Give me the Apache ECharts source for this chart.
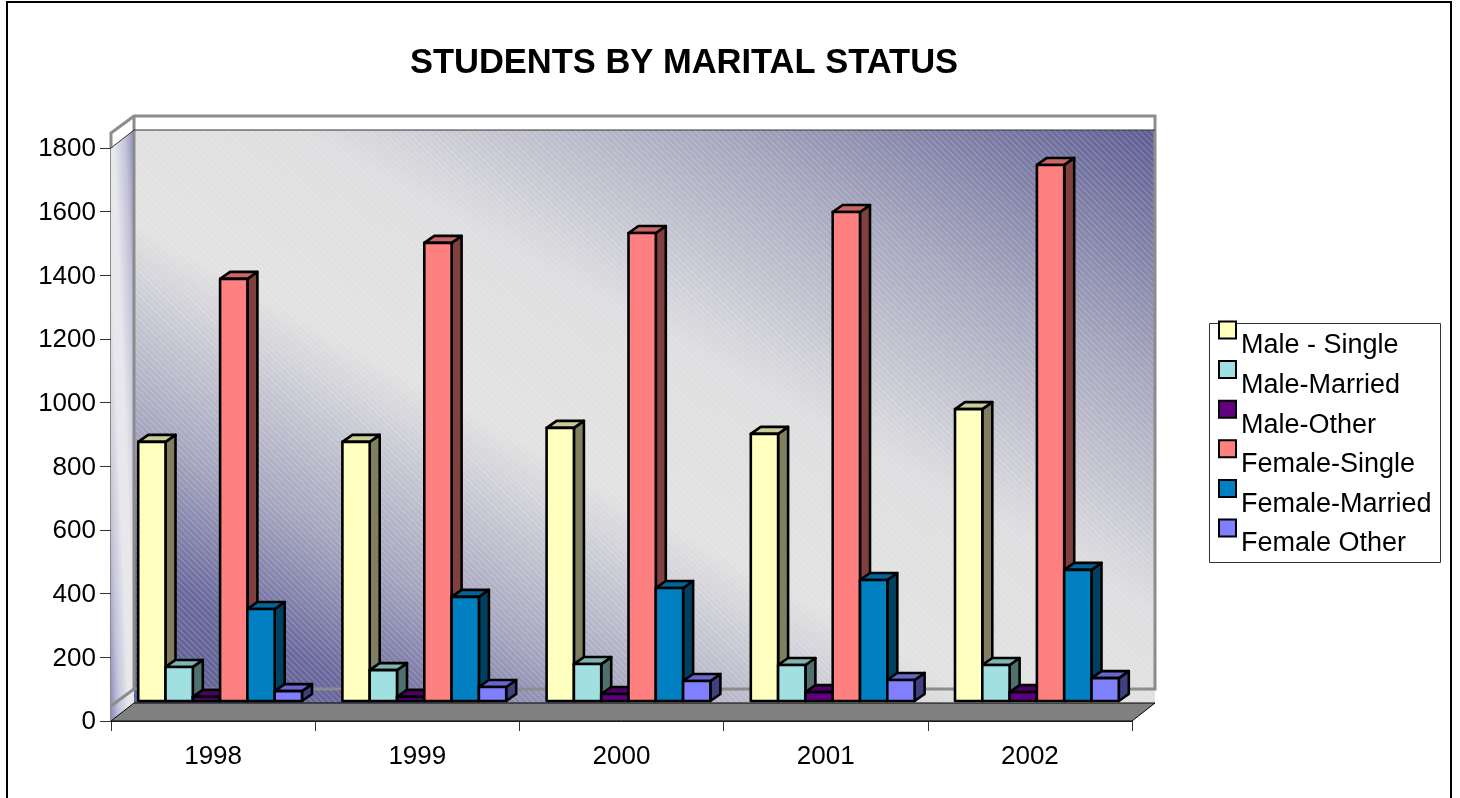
<!DOCTYPE html>
<html>
<head>
<meta charset="utf-8">
<title>Students by marital status</title>
<script src="https://cdn.jsdelivr.net/npm/echarts@6/dist/echarts.min.js"></script>
<style>
    html, body { margin: 0; padding: 0; background: #fff; }
    #chart { width: 1460px; height: 798px; }
</style>
</head>
<body>
<div id="chart"></div>
<script>
const years = ['1998', '1999', '2000', '2001', '2002'];
const seriesNames = ['Male - Single', 'Male-Married', 'Male-Other', 'Female-Single', 'Female-Married', 'Female Other'];
const maleSingle = [814, 814, 858, 839, 917];
const maleMarried = [107, 97, 116, 113, 113];
const maleOther = [13, 13, 22, 28, 28];
const femaleSingle = [1326, 1439, 1470, 1536, 1684];
const femaleMarried = [289, 327, 355, 380, 412];
const femaleOther = [31, 44, 63, 66, 72];
const allValues = [maleSingle, maleMarried, maleOther, femaleSingle, femaleMarried, femaleOther];

// front, top and side face of each bar
const faceColors = [
    ['#FFFFC0', '#CCCC9A', '#808060'],
    ['#A0E0E0', '#80B3B3', '#507070'],
    ['#600080', '#4D0066', '#300040'],
    ['#FF8080', '#CC6666', '#804040'],
    ['#0080C0', '#00669A', '#004060'],
    ['#8080FF', '#6666CC', '#404080']
];

const FONT = 'Liberation Sans, Arial, sans-serif';
const BAR_W = 27.3;
const BAR_DX = 10, BAR_DY = -7;      // depth of one bar
const FLOOR_DX = 23, FLOOR_DY = -18; // where the floor meets the back wall
const FRAME_DX = 23, FRAME_DY = -32; // offset of the grey frame lines
const SHIFT_X = 7, SHIFT_Y = -20;    // front plane of the bars, relative to the axes

// faint diagonal hatch on the back wall
function hatchCanvas() {
    const c = document.createElement('canvas');
    c.width = 6; c.height = 6;
    const g = c.getContext('2d');
    g.strokeStyle = 'rgba(255,255,255,0.16)';
    g.lineWidth = 1.4;
    g.beginPath();
    g.moveTo(-1, -1); g.lineTo(7, 7);
    g.moveTo(-1, 5); g.lineTo(1, 7);
    g.moveTo(5, -1); g.lineTo(7, 1);
    g.stroke();
    return c;
}
const hatch = hatchCanvas();

// gradient whose colour bands run along the top-left to bottom-right diagonal of a box
function diagonalFill(left, top, right, bottom, stops) {
    const cx = (left + right) / 2, cy = (top + bottom) / 2;
    const dx = right - left, dy = bottom - top, len = Math.sqrt(dx * dx + dy * dy);
    const nx = dy / len, ny = -dx / len;
    const reach = (right - cx) * nx + (top - cy) * ny;
    return new echarts.graphic.LinearGradient(
        cx + nx * reach, cy + ny * reach, cx - nx * reach, cy - ny * reach, stops, true);
}

function renderWalls(params, api) {
    const cs = params.coordSys;
    const x0 = cs.x, x1 = cs.x + cs.width;
    const yBottom = cs.y + cs.height, yTop = cs.y;
    const wl = x0 + FLOOR_DX, wr = x1 + FLOOR_DX, wt = yTop + FLOOR_DY, wb = yBottom + FLOOR_DY;
    const ft = yTop + FRAME_DY, fb = yBottom + FRAME_DY;
    const wallFill = diagonalFill(wl, wt, wr, wb, [
        { offset: 0, color: '#5C5C92' },
        { offset: 0.22, color: '#A6A6BE' },
        { offset: 0.42, color: '#DEDEE0' },
        { offset: 0.58, color: '#E2E2E2' },
        { offset: 0.76, color: '#A4A4BE' },
        { offset: 0.88, color: '#68689C' },
        { offset: 1, color: '#5C5C92' }
    ]);
    const sideFill = diagonalFill(x0, wt, wl, yBottom, [
        { offset: 0, color: '#8C8CBC' },
        { offset: 0.2, color: '#C4C4DA' },
        { offset: 0.45, color: '#E8E8EC' },
        { offset: 0.6, color: '#E8E8EC' },
        { offset: 0.82, color: '#C4C4DA' },
        { offset: 1, color: '#8C8CBC' }
    ]);
    const grey = { fill: null, stroke: '#8C8C8C', lineWidth: 3 };
    return {
        type: 'group',
        children: [
            { type: 'rect', shape: { x: wl, y: wt, width: wr - wl, height: wb - wt }, style: { fill: wallFill } },
            { type: 'rect', shape: { x: wl, y: wt, width: wr - wl, height: wb - wt }, style: { fill: { image: hatch, repeat: 'repeat' } } },
            { type: 'polygon', shape: { points: [[x0, yTop], [wl, wt], [wl, wb], [x0, yBottom]] }, style: { fill: sideFill } },
            { type: 'polyline', shape: { points: [[x0, yTop], [x0, ft + 17], [wl, ft], [x1 + FRAME_DX, ft], [x1 + FRAME_DX, fb], [wl, fb], [x0, fb + 17]] }, style: grey },
            { type: 'line', shape: { x1: wl, y1: ft, x2: wl, y2: fb }, style: grey },
            { type: 'polyline', shape: { points: [[x0, yTop], [wl, wt], [wr, wt]] }, style: { fill: null, stroke: '#333', lineWidth: 1 } },
            { type: 'polygon', shape: { points: [[x0, yBottom], [wl, wb], [wr, wb], [x1, yBottom]] }, style: { fill: '#808080', stroke: '#000', lineWidth: 1 } }
        ]
    };
}

function renderBar(seriesIdx) {
    return function (params, api) {
        const cat = api.value(0);
        const top = api.coord([cat, api.value(1)]);
        const base = api.coord([cat, 0]);
        const left = top[0] + SHIFT_X + (seriesIdx - 3) * BAR_W;
        const right = left + BAR_W;
        const yt = top[1] + SHIFT_Y;
        const yb = base[1] + SHIFT_Y;
        const colors = faceColors[seriesIdx];
        const edge = { stroke: '#000', lineWidth: 2.6, lineJoin: 'round' };
        return {
            type: 'group',
            children: [
                { type: 'polygon', shape: { points: [[right, yt], [right + BAR_DX, yt + BAR_DY], [right + BAR_DX, yb + BAR_DY], [right, yb]] }, style: Object.assign({ fill: colors[2] }, edge) },
                { type: 'polygon', shape: { points: [[left, yt], [left + BAR_DX, yt + BAR_DY], [right + BAR_DX, yt + BAR_DY], [right, yt]] }, style: Object.assign({ fill: colors[1] }, edge) },
                { type: 'rect', shape: { x: left, y: yt, width: BAR_W, height: yb - yt }, style: Object.assign({ fill: colors[0] }, edge) }
            ]
        };
    };
}

const chart = echarts.init(document.getElementById('chart'), null, { renderer: 'canvas' });

const barSeries = seriesNames.map((name, i) => ({
    name: name,
    type: 'custom',
    renderItem: renderBar(i),
    encode: { x: 0, y: 1 },
    clip: false,
    z: 3 + i,
    itemStyle: { color: faceColors[i][0], borderColor: '#000', borderWidth: 2.5 },
    data: years.map((y, j) => [j, allValues[i][j]])
}));

chart.setOption({
    animation: false,
    backgroundColor: '#fff',
    title: {
        text: 'STUDENTS BY MARITAL STATUS',
        left: 679,
        top: 41,
        textAlign: 'center',
        textStyle: { fontFamily: FONT, fontSize: 34.5, fontWeight: 'bold', color: '#000' }
    },
    legend: {
        orient: 'vertical',
        left: 1218,
        top: 298,
        padding: 0,
        itemWidth: 17,
        itemHeight: 17,
        itemGap: -24.4,
        icon: 'rect',
        selectedMode: false,
        data: seriesNames,
        // empty first line drops the name below its swatch
        formatter: name => '\n' + name,
        textStyle: { fontFamily: FONT, fontSize: 27, color: '#000', lineHeight: 32 }
    },
    graphic: [
        { type: 'polyline', silent: true, shape: { points: [[7, 798], [7, 2], [1451, 2], [1451, 798]] }, style: { fill: null, stroke: '#000', lineWidth: 2 } },
        { type: 'rect', silent: true, shape: { x: 1209.5, y: 323.5, width: 231, height: 239 }, style: { fill: '#fff', stroke: '#333', lineWidth: 1 } }
    ],
    grid: { left: 111, right: 328, top: 148, bottom: 77, containLabel: false },
    xAxis: {
        type: 'category',
        data: years,
        axisLine: { lineStyle: { color: '#333', width: 1 } },
        axisTick: { show: true, length: 10, alignWithLabel: false, lineStyle: { color: '#333' } },
        axisLabel: { fontFamily: FONT, fontSize: 26, color: '#000', margin: 23 },
        splitLine: { show: false }
    },
    yAxis: {
        type: 'value',
        min: 0,
        max: 1800,
        interval: 200,
        axisLine: { show: true, lineStyle: { color: '#666', width: 1.5 } },
        axisTick: { show: true, length: 11, lineStyle: { color: '#333' } },
        axisLabel: { fontFamily: FONT, fontSize: 26, color: '#000', margin: 15, verticalAlign: 'top', lineHeight: 2, formatter: v => String(v) },
        splitLine: { show: false }
    },
    series: [{
        name: 'walls',
        type: 'custom',
        silent: true,
        clip: false,
        z: 1,
        renderItem: renderWalls,
        encode: { x: 0, y: 1 },
        data: [[0, 0]]
    }].concat(barSeries)
});
</script>
</body>
</html>
